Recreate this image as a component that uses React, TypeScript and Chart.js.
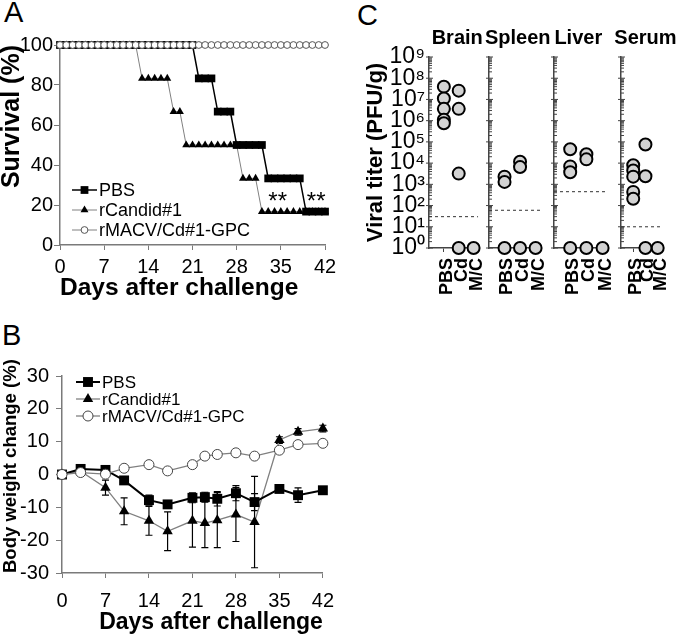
import React, { useEffect, useRef } from "react";
import { Chart, registerables } from "chart.js";

Chart.register(...registerables);

const FONT = "'Liberation Sans', Arial, Helvetica, sans-serif";
Chart.defaults.font.family = FONT;
Chart.defaults.color = "#000";

// ---------- Panel A: survival ----------
const survivalDays = [
  0, 1, 2, 3, 4, 5, 6, 7, 8, 9, 10, 11, 12, 13, 14, 15, 16, 17, 18, 19, 20, 21,
  22, 23, 24, 25, 26, 27, 28, 29, 30, 31, 32, 33, 34, 35, 36, 37, 38, 39, 40, 41, 42,
];
const survivalPBS = [
  100, 100, 100, 100, 100, 100, 100, 100, 100, 100,
  100, 100, 100, 100, 100, 100, 100, 100, 100, 100,
  100, 100, 83.3, 83.3, 83.3, 66.7, 66.7, 66.7, 50, 50,
  50, 50, 50, 33.3, 33.3, 33.3, 33.3, 33.3, 33.3, 16.7,
  16.7, 16.7, 16.7,
];
const survivalCandid = [
  100, 100, 100, 100, 100, 100, 100, 100, 100, 100,
  100, 100, 100, 83.3, 83.3, 83.3, 83.3, 83.3, 66.7, 66.7,
  50, 50, 50, 50, 50, 50, 50, 50, 50, 33.3,
  33.3, 33.3, 16.7, 16.7, 16.7, 16.7, 16.7, 16.7, 16.7, 16.7,
  16.7, 16.7, 16.7,
];
const survivalMACV = [
  100, 100, 100, 100, 100, 100, 100, 100, 100, 100,
  100, 100, 100, 100, 100, 100, 100, 100, 100, 100,
  100, 100, 100, 100, 100, 100, 100, 100, 100, 100,
  100, 100, 100, 100, 100, 100, 100, 100, 100, 100,
  100, 100, 100,
];
const seriesNames = ["PBS", "rCandid#1", "rMACV/Cd#1-GPC"];
const starDays = [34.5, 40.6];
const starLevel = 22;
const starText = "**";

// ---------- Panel B: body weight ----------
const weightDays = [0, 3, 7, 10, 14, 17, 21, 23, 25, 28, 31, 35, 38, 42];
const weightPBS = [0, 1.7, 1.4, -1.8, -7.8, -9.1, -7.1, -6.9, -7.4, -5.7, -8.4, -4.4, -6.3, -4.8];
const weightPBSErr = [0, 0.5, 0.5, 1, 1.5, 1, 1.5, 1.5, 2.2, 2.3, 2.6, 1, 2.2, 1];
const weightCandid = [0, 1.0, -4.0, -11.2, -14.1, -17.3, -14.1, -14.8, -13.9, -12.2, -14.5, 10.5, 13.0, 14.0];
const weightCandidErr = [0, 0.5, 2.3, 4.1, 4.4, 5.9, 8.0, 7.5, 8.4, 8.2, 13.9, 1, 1, 1];
const weightMACV = [0, 0.6, 0.1, 1.9, 3.0, 1.1, 3.0, 5.6, 6.1, 6.6, 5.6, 7.4, 9.1, 9.5];

// ---------- Panel C: viral titers ----------
const tissues = ["Brain", "Spleen", "Liver", "Serum"];
const groups = ["PBS", "Cd", "M/C"];
const titerPBS = [
  [4e7, 1.1e7, 3.6e6, 1.1e6, 7.5e5],
  [2.3e3, 1.3e3, 1],
  [4.5e4, 7e3, 3.7e3, 1],
  [8e3, 4.5e3, 2.3e3, 4.4e2, 2.1e2],
];
const titerCd = [
  [2.6e7, 3.6e6, 3.2e3, 1],
  [1.15e4, 6.5e3, 1],
  [2.6e4, 1.5e4, 1],
  [7.5e4, 2.4e3, 1],
];
const titerMC = [[1], [1], [1], [1]];
const detectionLimit = [30, 60, 450, 10];
const titerTickExponents = [0, 1, 2, 3, 4, 5, 6, 7, 8, 9];
const SUP = ["⁰", "¹", "²", "³", "⁴", "⁵", "⁶", "⁷", "⁸", "⁹"];

// ---------- layout constants (not data) ----------
const cAreaLeft = [429, 489, 554, 621];
const cAreaRight = [483, 545, 612, 678];
const cTitleAt = [1.9, 1.85, 1.5, 2.0]; // x-scale position of each panel title centre
const XMAX_C = 3.3;
const AXIS = "#7a7a7a";

// ---------- helpers ----------
function drawMarker(ctx: CanvasRenderingContext2D, style: string, x: number, y: number, r: number, fill: string, stroke: string, lw: number) {
  ctx.save();
  ctx.beginPath();
  if (style === "rect") {
    const s = r * Math.SQRT1_2;
    ctx.rect(x - s, y - s, 2 * s, 2 * s);
  } else if (style === "triangle") {
    ctx.moveTo(x, y - r);
    ctx.lineTo(x + r * 0.866, y + r * 0.5);
    ctx.lineTo(x - r * 0.866, y + r * 0.5);
    ctx.closePath();
  } else {
    ctx.arc(x, y, r, 0, Math.PI * 2);
  }
  ctx.fillStyle = fill;
  ctx.fill();
  if (lw > 0) {
    ctx.lineWidth = lw;
    ctx.strokeStyle = stroke;
    ctx.stroke();
  }
  ctx.restore();
}

function legendPlugin(cfg: { fromBottom: boolean; y0: number; dy: number; x0: number; x1: number; tx: number; size: number }) {
  return {
    id: "customLegend",
    afterDatasetsDraw(chart: any) {
      const { ctx, chartArea: a } = chart;
      chart.data.datasets.forEach((ds: any, i: number) => {
        const y = (cfg.fromBottom ? a.bottom - cfg.y0 : a.top + cfg.y0) + i * cfg.dy;
        ctx.save();
        ctx.strokeStyle = ds.borderColor;
        ctx.lineWidth = ds.borderWidth;
        ctx.beginPath();
        ctx.moveTo(a.left + cfg.x0, y);
        ctx.lineTo(a.left + cfg.x1, y);
        ctx.stroke();
        drawMarker(ctx, ds.pointStyle, a.left + (cfg.x0 + cfg.x1) / 2, y, ds.pointRadius, ds.pointBackgroundColor, ds.pointBorderColor, ds.pointBorderWidth);
        ctx.fillStyle = "#000";
        ctx.font = `${cfg.size}px ${FONT}`;
        ctx.textBaseline = "middle";
        ctx.textAlign = "left";
        ctx.fillText(ds.label, a.left + cfg.tx, y + 1);
        ctx.restore();
      });
    },
  };
}

const starPlugin = {
  id: "stars",
  afterDatasetsDraw(chart: any) {
    const { ctx, scales } = chart;
    ctx.save();
    ctx.fillStyle = "#000";
    ctx.font = `24px ${FONT}`;
    ctx.textAlign = "center";
    ctx.textBaseline = "middle";
    starDays.forEach((d) => {
      ctx.fillText(starText, scales.x.getPixelForValue(d), scales.y.getPixelForValue(starLevel) + 1);
    });
    ctx.restore();
  },
};

const errorBarPlugin = {
  id: "errorBars",
  beforeDatasetsDraw(chart: any) {
    const { ctx, scales } = chart;
    chart.data.datasets.forEach((ds: any) => {
      if (!ds.errors) return;
      ctx.save();
      ctx.strokeStyle = "#000";
      ctx.lineWidth = 1.2;
      ds.data.forEach((p: any, i: number) => {
        const e = ds.errors[i];
        if (!e) return;
        const px = scales.x.getPixelForValue(p.x);
        const y1 = scales.y.getPixelForValue(p.y + e);
        const y2 = scales.y.getPixelForValue(p.y - e);
        ctx.beginPath();
        ctx.moveTo(px, y1);
        ctx.lineTo(px, y2);
        ctx.moveTo(px - 3.5, y1);
        ctx.lineTo(px + 3.5, y1);
        ctx.moveTo(px - 3.5, y2);
        ctx.lineTo(px + 3.5, y2);
        ctx.stroke();
      });
      ctx.restore();
    });
  },
};

const logTickPlugin = {
  id: "logTicks",
  beforeDatasetsDraw(chart: any) {
    const { ctx, chartArea, scales } = chart;
    const x0 = chartArea.left;
    ctx.save();
    ctx.strokeStyle = "#444";
    ctx.lineWidth = 1;
    ctx.beginPath();
    titerTickExponents.forEach((e) => {
      const p = scales.y.getPixelForValue(Math.pow(10, e));
      ctx.moveTo(x0 - 3, p);
      ctx.lineTo(x0 + 4, p);
      if (e < 9) {
        for (let m = 2; m < 10; m++) {
          const q = scales.y.getPixelForValue(m * Math.pow(10, e));
          ctx.moveTo(x0, q);
          ctx.lineTo(x0 + 3, q);
        }
      }
    });
    ctx.stroke();
    ctx.restore();
  },
};

function tissueTitlePlugin(t: number) {
  return {
    id: "tissueTitle",
    afterDraw(chart: any) {
      const { ctx, chartArea, scales } = chart;
      ctx.save();
      ctx.fillStyle = "#000";
      ctx.font = `bold 20px ${FONT}`;
      ctx.textAlign = "center";
      ctx.textBaseline = "middle";
      ctx.fillText(tissues[t], scales.x.getPixelForValue(cTitleAt[t]), chartArea.top - 19);
      ctx.restore();
    },
  };
}

function survivalConfig(): any {
  const pts = (vals: number[]) => survivalDays.map((d, i) => ({ x: d, y: vals[i] }));
  return {
    type: "line",
    data: {
      datasets: [
        { label: seriesNames[0], data: pts(survivalPBS), borderColor: "#000", borderWidth: 1.5, pointStyle: "rect", pointRadius: 5.5, pointBackgroundColor: "#000", pointBorderColor: "#000", pointBorderWidth: 0, order: 1, clip: false },
        { label: seriesNames[1], data: pts(survivalCandid), borderColor: "#808080", borderWidth: 1, pointStyle: "triangle", pointRadius: 4.6, pointBackgroundColor: "#000", pointBorderColor: "#000", pointBorderWidth: 0, order: 2, clip: false },
        { label: seriesNames[2], data: pts(survivalMACV), borderColor: "#808080", borderWidth: 1, pointStyle: "circle", pointRadius: 3.4, pointBackgroundColor: "#fff", pointBorderColor: "#555", pointBorderWidth: 1, order: 0, clip: false },
      ],
    },
    options: {
      responsive: false,
      animation: false,
      devicePixelRatio: 1,
      layout: { padding: { left: 0, top: 15, right: 20, bottom: 0 } },
      plugins: { legend: { display: false }, tooltip: { enabled: false } },
      scales: {
        x: {
          type: "linear", min: 0, max: 42,
          ticks: { stepSize: 7, padding: 5, font: { size: 20 }, color: "#000" },
          grid: { drawOnChartArea: false, tickLength: 5, color: AXIS },
          border: { color: AXIS, width: 1.5 },
          title: { display: true, align: "start", text: "Days after challenge", font: { size: 24.5, weight: "bold", lineHeight: 1 }, color: "#000", padding: 0 },
          afterFit: (s: any) => { s.height = 55; },
        },
        y: {
          type: "linear", min: 0, max: 100,
          ticks: { stepSize: 20, padding: 1, font: { size: 20 }, color: "#000" },
          grid: { drawOnChartArea: false, tickLength: 6, color: AXIS },
          border: { color: AXIS, width: 1.5 },
          title: { display: true, align: "end", text: "Survival (%)", font: { size: 25, weight: "bold", lineHeight: 1 }, color: "#000", padding: { top: 0, bottom: 0 } },
          afterFit: (s: any) => { s.width = 60; },
        },
      },
    },
    plugins: [legendPlugin({ fromBottom: true, y0: 55, dy: 20, x0: 12, x1: 37, tx: 39, size: 18 }), starPlugin],
  };
}

function weightConfig(): any {
  const pts = (vals: number[]) => weightDays.map((d, i) => ({ x: d, y: vals[i] }));
  return {
    type: "line",
    data: {
      datasets: [
        { label: seriesNames[0], data: pts(weightPBS), errors: weightPBSErr, borderColor: "#000", borderWidth: 2, pointStyle: "rect", pointRadius: 7, pointBackgroundColor: "#000", pointBorderColor: "#000", pointBorderWidth: 0, order: 1, clip: false },
        { label: seriesNames[1], data: pts(weightCandid), errors: weightCandidErr, borderColor: "#808080", borderWidth: 1.3, pointStyle: "triangle", pointRadius: 6, pointBackgroundColor: "#000", pointBorderColor: "#000", pointBorderWidth: 0, order: 2, clip: false },
        { label: seriesNames[2], data: pts(weightMACV), borderColor: "#808080", borderWidth: 1.3, pointStyle: "circle", pointRadius: 5, pointBackgroundColor: "#fff", pointBorderColor: "#444", pointBorderWidth: 1, order: 0, clip: false },
      ],
    },
    options: {
      responsive: false,
      animation: false,
      devicePixelRatio: 1,
      layout: { padding: { left: 0, top: 36, right: 21, bottom: 0 } },
      plugins: { legend: { display: false }, tooltip: { enabled: false } },
      scales: {
        x: {
          type: "linear", min: 0, max: 42,
          ticks: { stepSize: 7, padding: 11, font: { size: 20 }, color: "#000" },
          grid: { drawOnChartArea: false, tickLength: 5, color: AXIS },
          border: { color: AXIS, width: 1.5 },
          title: { display: true, align: "end", text: "Days after challenge", font: { size: 23, weight: "bold", lineHeight: 1.1 }, color: "#000", padding: 0 },
          afterFit: (s: any) => { s.height = 62; },
        },
        y: {
          type: "linear", min: -30, max: 30,
          ticks: { stepSize: 10, padding: 7, font: { size: 20 }, color: "#000" },
          grid: { drawOnChartArea: false, tickLength: 6, color: AXIS },
          border: { color: AXIS, width: 1.5 },
          title: { display: true, align: "start", text: "Body weight change (%)", font: { size: 18.5, weight: "bold" }, color: "#000", padding: { top: 0, bottom: 0 } },
          afterFit: (s: any) => { s.width = 62; },
        },
      },
    },
    plugins: [legendPlugin({ fromBottom: false, y0: 6, dy: 17, x0: 14, x1: 38, tx: 40, size: 17 }), errorBarPlugin],
  };
}

function titerConfig(t: number, extraLeft: number, padRight: number): any {
  const first = t === 0;
  const series = [titerPBS[t], titerCd[t], titerMC[t]];
  const datasets: any[] = series.map((vals, g) => ({
    data: vals.map((v) => ({ x: g + 1, y: v })),
    pointRadius: 6,
    pointBackgroundColor: "#d3d3d3",
    pointBorderColor: "#000",
    pointBorderWidth: 2,
    clip: false,
    order: 0,
  }));
  datasets.push({
    data: [{ x: 0, y: detectionLimit[t] }, { x: XMAX_C, y: detectionLimit[t] }],
    showLine: true,
    borderColor: "#333",
    borderWidth: 1,
    borderDash: [3, 3],
    pointRadius: 0,
    clip: false,
    order: 1,
  });
  return {
    type: "scatter",
    data: { datasets },
    options: {
      responsive: false,
      animation: false,
      devicePixelRatio: 1,
      layout: { padding: { left: extraLeft, top: 57, right: padRight, bottom: 0 } },
      plugins: { legend: { display: false }, tooltip: { enabled: false } },
      scales: {
        x: {
          type: "linear", min: 0, max: XMAX_C,
          afterBuildTicks: (s: any) => { s.ticks = groups.map((_, i) => ({ value: i + 1 })); },
          ticks: { autoSkip: false, minRotation: 90, maxRotation: 90, padding: 6, labelOffset: 3, font: { size: 18, weight: "bold" }, color: "#000", callback: (v: any) => groups[Math.round(v) - 1] },
          grid: { display: true, drawOnChartArea: false, drawTicks: true, tickLength: 4, color: "#444" },
          border: { display: true, color: "#444", width: 1.5 },
          afterFit: (s: any) => { s.height = 62; },
        },
        y: {
          type: "logarithmic", min: 1, max: 1e9,
          afterBuildTicks: (s: any) => { s.ticks = titerTickExponents.map((e) => ({ value: Math.pow(10, e), major: true })); },
          ticks: { display: first, padding: 4, font: { size: 23 }, color: "#000", autoSkip: false, callback: (v: any) => "10" + SUP[Math.round(Math.log10(v))] },
          grid: { display: false, drawTicks: false },
          border: { display: true, color: "#444", width: 1.5 },
          title: first
            ? { display: true, text: "Viral titer (PFU/g)", font: { size: 22, weight: "bold", lineHeight: 1.1 }, color: "#000", padding: { top: 6, bottom: 0 } }
            : { display: false },
          afterFit: (s: any) => { s.width = first ? 71 : 5; },
        },
      },
    },
    plugins: [logTickPlugin, tissueTitlePlugin(t)],
  };
}

function ChartCanvas({ left, top, width, height, make }: { left: number; top: number; width: number; height: number; make: () => any }) {
  const ref = useRef<HTMLCanvasElement>(null);
  useEffect(() => {
    const chart = new Chart(ref.current as HTMLCanvasElement, make());
    return () => chart.destroy();
  }, []);
  return <canvas ref={ref} width={width} height={height} style={{ position: "absolute", left, top, width, height }} />;
}

export default function App() {
  const letter = (ch: string, left: number, top: number) => (
    <div style={{ position: "absolute", left, top, fontSize: 29, lineHeight: "29px", fontFamily: FONT, color: "#000" }}>{ch}</div>
  );
  return (
    <div style={{ position: "absolute", left: 0, top: 0, width: 686, height: 635, overflow: "hidden", background: "#fff" }}>
      {letter("A", 4, -2)}
      {letter("B", 2, 321)}
      {letter("C", 357, 1)}
      <ChartCanvas left={0} top={30} width={345} height={270} make={survivalConfig} />
      <ChartCanvas left={0} top={340} width={345} height={295} make={weightConfig} />
      {tissues.map((_, t) => {
        const yw = t === 0 ? 71 : 5;
        const extraLeft = t === 0 ? 0 : 30;
        const padRight = t === 3 ? 8 : 20;
        const left = cAreaLeft[t] - yw - extraLeft;
        const width = cAreaRight[t] + padRight - left;
        return <ChartCanvas key={t} left={left} top={0} width={width} height={310} make={() => titerConfig(t, extraLeft, padRight)} />;
      })}
    </div>
  );
}
